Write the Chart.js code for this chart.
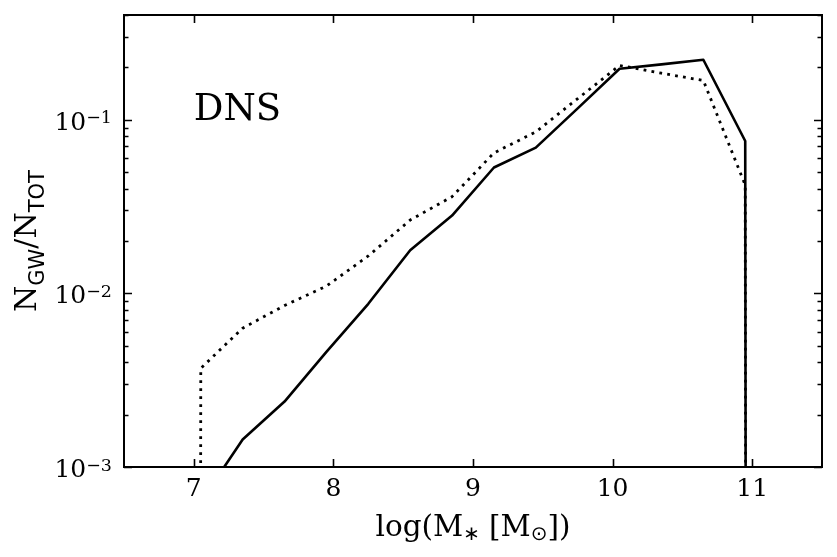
<!DOCTYPE html>
<html><head><meta charset="utf-8">
<script src="https://cdn.jsdelivr.net/npm/chart.js@4.4.0/dist/chart.umd.min.js"></script>
<style>html,body{margin:0;padding:0;background:#fff;}#wrap{width:837px;height:557px;}</style>
</head><body><div id="wrap"><canvas id="c" width="837" height="557"></canvas></div>
<script>
// ---- data ----
const logMass    = [6.75, 7.05, 7.35, 7.65, 7.95, 8.25, 8.55, 8.85, 9.15, 9.45, 9.75, 10.05, 10.35, 10.65, 10.95, 11.25];
const fracSolid  = [0, 0.00063, 0.00144, 0.00238, 0.0046, 0.0087, 0.0177, 0.028, 0.053, 0.069, 0.116, 0.196, 0.208, 0.221, 0.0753, 0];
const fracDotted = [0, 0.0037, 0.0063, 0.0085, 0.011, 0.0164, 0.0264, 0.036, 0.0643, 0.085, 0.132, 0.205, 0.185, 0.168, 0.042, 0];
const xTicks     = [7, 8, 9, 10, 11];
const yTickExps  = [-3, -2, -1];
const panelLabel = 'DNS';

const SERIF = '"DejaVu Serif", serif';
const SANS  = '"DejaVu Sans", sans-serif';
// non-positive values are clipped to a vanishing value (as a log axis does)
const clipPos = v => (v > 0 ? v : 1e-300);

function drawRuns(ctx, runs, x, baseline, align) {
  let total = 0;
  runs.forEach(r => { ctx.font = r.font; r.w = ctx.measureText(r.t).width; total += r.w + (r.gap || 0); });
  let cx = align === 'right' ? x - total : align === 'center' ? x - total / 2 : x;
  ctx.textAlign = 'left'; ctx.textBaseline = 'alphabetic';
  runs.forEach(r => { ctx.font = r.font; ctx.fillText(r.t, cx, baseline + (r.dy || 0)); cx += r.w + (r.gap || 0); });
}

const decor = {
  id: 'decor',
  afterDraw(chart) {
    const ctx = chart.ctx, a = chart.chartArea, xs = chart.scales.x, ys = chart.scales.y;
    ctx.save();
    ctx.strokeStyle = '#000'; ctx.fillStyle = '#000';
    // frame
    ctx.lineWidth = 2;
    ctx.strokeRect(a.left, a.top, a.right - a.left, a.bottom - a.top);
    // x ticks (inward, bottom & top)
    ctx.lineWidth = 1.6;
    xTicks.forEach(v => {
      const p = Math.round(xs.getPixelForValue(v)) + 0.5;
      ctx.beginPath();
      ctx.moveTo(p, a.bottom); ctx.lineTo(p, a.bottom - 8);
      ctx.moveTo(p, a.top); ctx.lineTo(p, a.top + 8);
      ctx.stroke();
    });
    // y ticks (log: major + minor, inward, left & right)
    for (let e = -3; e <= 0; e++) {
      for (let k = 1; k <= 9; k++) {
        const v = k * Math.pow(10, e);
        if (v < ys.min * 0.999 || v > ys.max) continue;
        const p = Math.round(ys.getPixelForValue(v)) + 0.5;
        const len = k === 1 ? 8 : 4.5;
        ctx.beginPath();
        ctx.moveTo(a.left, p); ctx.lineTo(a.left + len, p);
        ctx.moveTo(a.right, p); ctx.lineTo(a.right - len, p);
        ctx.stroke();
      }
    }
    // x tick labels
    ctx.font = '25px ' + SERIF; ctx.textAlign = 'center'; ctx.textBaseline = 'alphabetic';
    xTicks.forEach(v => ctx.fillText(String(v), xs.getPixelForValue(v), a.bottom + 29));
    // y tick labels 10^n
    yTickExps.forEach(e => {
      const p = ys.getPixelForValue(Math.pow(10, e));
      drawRuns(ctx, [
        { t: '10', font: '25px ' + SERIF },
        { t: '\u2212' + Math.abs(e), font: '17.5px ' + SERIF, dy: -6.5 }
      ], a.left - 12, p + 10, 'right');
    });
    // x title
    drawRuns(ctx, [
      { t: 'log(M', font: '29.5px ' + SERIF },
      { t: '\u2217', font: '20px ' + SANS, dy: 4, gap: 9 },
      { t: '[M', font: '29.5px ' + SERIF },
      { t: '\u2299', font: '20px ' + SANS, dy: 4 },
      { t: '])', font: '29.5px ' + SERIF }
    ], (a.left + a.right) / 2, 536, 'center');
    // y title (rotated)
    ctx.save();
    ctx.translate(36, (a.top + a.bottom) / 2);
    ctx.rotate(-Math.PI / 2);
    drawRuns(ctx, [
      { t: 'N', font: '30px ' + SERIF },
      { t: 'GW', font: '21px ' + SANS, dy: 8 },
      { t: '/N', font: '30px ' + SERIF },
      { t: 'TOT', font: '21px ' + SANS, dy: 8 }
    ], 0, 0, 'center');
    ctx.restore();
    // panel label at data position (7, 0.1)
    ctx.font = '37px ' + SERIF; ctx.textAlign = 'left'; ctx.textBaseline = 'alphabetic';
    ctx.fillText(panelLabel, xs.getPixelForValue(7.0), ys.getPixelForValue(0.1));
    ctx.restore();
  }
};

new Chart(document.getElementById('c').getContext('2d'), {
  type: 'line',
  data: {
    datasets: [
      { data: logMass.map((m, i) => ({ x: m, y: clipPos(fracSolid[i]) })),
        borderColor: '#000', borderWidth: 2.6, pointRadius: 0, fill: false, tension: 0,
        borderJoinStyle: 'round', borderCapStyle: 'butt' },
      { data: logMass.map((m, i) => ({ x: m, y: clipPos(fracDotted[i]) })),
        borderColor: '#000', borderWidth: 2.8, pointRadius: 0, fill: false, tension: 0,
        borderDash: [2.8, 5.2], borderCapStyle: 'butt', borderJoinStyle: 'round' }
    ]
  },
  options: {
    responsive: false, animation: false, devicePixelRatio: 1,
    layout: { padding: { left: 124, right: 15, top: 15, bottom: 90 } },
    plugins: { legend: { display: false }, tooltip: { enabled: false } },
    scales: {
      x: { type: 'linear', min: 6.5, max: 11.5, display: false },
      y: { type: 'logarithmic', min: 0.001, max: 0.4, display: false }
    }
  },
  plugins: [decor]
});
</script></body></html>
